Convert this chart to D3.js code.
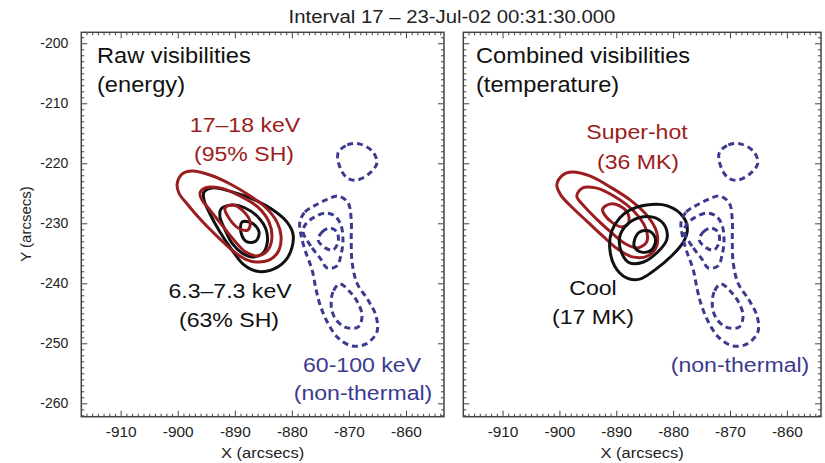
<!DOCTYPE html>
<html>
<head>
<meta charset="utf-8">
<script src="https://cdn.jsdelivr.net/npm/d3@7"></script>
<style>
  body { margin: 0; background: #fff; }
  svg { font-family: "Liberation Sans", Arial, Helvetica, sans-serif; }
</style>
</head>
<body>
<div id="chart"></div>
<script>
// tick labels
const xMajor = [-910, -900, -890, -880, -870, -860];
const yMajor = [-260, -250, -240, -230, -220, -210, -200];

// contour levels, [x, y] in arcsecs
// left panel: raw visibilities (energy)
const rawHotOuter = [[-900.1,-223.45],[-899.25,-221.8],[-897.5,-221.3],[-894.35,-221.95],[-890.8,-223.45],[-887.3,-225.45],[-884.5,-227.45],[-882.6,-229.8],[-881.9,-232.1],[-882.25,-234.45],[-883.65,-235.95],[-885.95,-236.45],[-888.2,-235.95],[-890.5,-234.45],[-892.95,-232.3],[-895.6,-229.8],[-898.2,-226.95],[-899.8,-224.95]];
const rawHotMid = [[-896.1,-224.95],[-895.2,-224.1],[-892.6,-224.1],[-889.1,-225.45],[-885.95,-227.3],[-884.0,-229.8],[-883.5,-232.45],[-884.2,-234.45],[-885.95,-235.45],[-888.05,-234.8],[-890.15,-232.8],[-892.25,-230.3],[-894.35,-227.8],[-895.75,-226.1]];
const rawHotInner = [[-891.7,-227.45],[-890.3,-226.95],[-888.55,-227.95],[-887.3,-229.8],[-887.7,-231.1],[-889.1,-230.95],[-890.8,-229.45]];
const rawCoolOuter = [[-895.4,-224.8],[-894.0,-224.1],[-890.3,-224.8],[-886.5,-226.1],[-883.3,-227.8],[-880.85,-229.8],[-879.8,-231.8],[-880.0,-234.1],[-881.2,-236.3],[-883.65,-237.8],[-886.3,-237.95],[-888.55,-236.8],[-890.5,-234.45],[-892.6,-231.45],[-894.35,-228.45],[-895.4,-226.1]];
const rawCoolMid = [[-892.4,-227.6],[-890.5,-226.95],[-888.2,-227.45],[-885.95,-228.95],[-884.5,-231.1],[-884.35,-233.45],[-885.2,-235.1],[-887.0,-235.6],[-888.74,-234.95],[-890.5,-233.3],[-891.7,-231.1],[-892.6,-228.95]];
const rawCoolInner = [[-888.75,-229.8],[-887.0,-229.95],[-885.75,-231.45],[-886.3,-232.95],[-887.85,-233.1],[-888.9,-231.6]];

// right panel: combined visibilities (temperature)
const combHotOuter = [[-900.45,-223.6],[-899.4,-221.95],[-897.85,-221.45],[-894.65,-222.1],[-890.8,-224.1],[-887.3,-226.3],[-884.5,-228.8],[-882.9,-231.45],[-882.9,-233.8],[-884.5,-235.45],[-887.15,-235.6],[-889.75,-234.3],[-892.4,-232.1],[-895.0,-229.8],[-897.65,-227.45],[-899.75,-225.3]];
const combHotMid = [[-896.95,-225.45],[-895.9,-224.1],[-893.6,-224.1],[-890.45,-225.45],[-886.95,-227.95],[-884.85,-230.8],[-884.65,-233.1],[-886.25,-234.1],[-888.35,-233.45],[-890.8,-231.6],[-893.45,-229.3],[-895.7,-227.1]];
const combHotInner = [[-892.4,-227.6],[-891.15,-226.8],[-889.4,-227.1],[-888.0,-228.3],[-887.85,-229.95],[-889.05,-230.6],[-890.8,-229.8],[-892.05,-228.6]];
const combCoolOuter = [[-889.4,-229.1],[-887.65,-227.8],[-884.65,-226.95],[-881.0,-227.1],[-878.2,-228.95],[-877.5,-231.1],[-878.2,-233.1],[-880.3,-235.45],[-883.25,-237.8],[-885.9,-239.3],[-888.2,-239.1],[-890.3,-237.1],[-891.15,-234.1],[-890.8,-231.3]];
const combCoolMid = [[-889.4,-232.3],[-888.35,-230.45],[-886.1,-229.1],[-883.1,-229.1],[-881.35,-230.6],[-881.15,-232.8],[-882.9,-234.95],[-885.2,-236.45],[-887.65,-236.6],[-889.05,-234.95]];
const combCoolInner = [[-886.8,-232.8],[-885.9,-231.45],[-884.15,-231.3],[-883.1,-232.6],[-883.8,-234.45],[-885.55,-234.8],[-886.8,-233.95]];

// non-thermal 60-100 keV (same in both panels)
const ntTop = [[-871.9,-218.3],[-870.3,-216.95],[-868.05,-216.8],[-865.8,-218.1],[-865.1,-219.95],[-866.3,-221.6],[-868.6,-222.8],[-870.3,-222.45],[-871.6,-220.6]];
const ntOuter = [[-878.6,-229.8],[-877.7,-228.1],[-876.1,-227.1],[-874.0,-226.1],[-871.9,-225.45],[-870.15,-226.6],[-869.6,-229.45],[-869.6,-232.8],[-869.45,-236.45],[-868.6,-239.95],[-866.65,-242.8],[-865.25,-245.45],[-865.1,-248.1],[-867.0,-250.1],[-869.45,-250.45],[-871.9,-249.1],[-873.8,-246.45],[-875.05,-243.6],[-875.75,-241.1],[-876.45,-237.8],[-877.7,-234.45],[-878.4,-231.95]];
const ntMid = [[-878.05,-231.45],[-876.45,-234.1],[-875.05,-235.8],[-873.8,-237.45],[-872.1,-237.1],[-871.4,-235.3],[-871.05,-232.8],[-871.4,-230.3],[-872.45,-228.8],[-874.15,-228.3],[-876.3,-229.1],[-877.7,-230.3]];
const ntInner = [[-875.4,-232.8],[-874.7,-231.45],[-873.3,-230.8],[-872.1,-231.45],[-871.9,-233.1],[-872.8,-234.45],[-874.15,-234.1]];
const ntLower = [[-871.6,-240.1],[-872.8,-241.45],[-873.1,-243.8],[-872.45,-245.8],[-870.7,-247.3],[-868.4,-247.3],[-867.7,-245.45],[-868.4,-243.3],[-869.8,-241.45]];

const RED = '#9b1d20', BLACK = '#111', BLUE = '#3b3a8e';
const SX = 1.1; // text in the figure is a bit wide

const svg = d3.select('#chart').append('svg')
    .attr('width', 825)
    .attr('height', 463);

const plotTop = 32.3, plotH = 384.4;
const y = d3.scaleLinear().domain([-262.23, -198.17]).range([plotH, 0]);

function label(str, px, py, size, color, anchor) {
    svg.append('text')
        .attr('transform', `translate(${px},${py}) scale(${SX},1)`)
        .attr('text-anchor', anchor || 'middle')
        .attr('font-size', size)
        .attr('fill', color)
        .text(str);
}

function axisG(g, axis, tr) {
    const a = g.append('g').attr('transform', tr || null).call(axis);
    a.attr('font-size', null).attr('font-family', null);
    a.select('.domain').remove();
    a.selectAll('line').attr('stroke', '#444').attr('stroke-width', 1);
    a.selectAll('text').attr('fill', '#222').attr('font-size', 14);
    return a;
}

function panel(id, left, width, xDomain, yLabels, layers) {
    const x = d3.scaleLinear().domain(xDomain).range([0, width]);
    const g = svg.append('g').attr('transform', `translate(${left},${plotTop})`);

    g.append('clipPath').attr('id', id)
        .append('rect').attr('width', width).attr('height', plotH);

    const xMinor = d3.range(Math.ceil(xDomain[0]), xDomain[1], 1).filter(v => v % 10 !== 0);
    const yMinor = d3.range(-262, -198, 1).filter(v => v % 10 !== 0);
    const fmt = d => String(d);

    // major and minor ticks, pointing inward on all sides
    const xb = axisG(g, d3.axisBottom(x).tickValues(xMajor).tickSize(-6).tickPadding(10).tickFormat(fmt), `translate(0,${plotH})`);
    xb.selectAll('text').attr('transform', `scale(${SX},1)`);
    axisG(g, d3.axisBottom(x).tickValues(xMinor).tickSize(-3).tickFormat(''), `translate(0,${plotH})`);
    axisG(g, d3.axisTop(x).tickValues(xMajor).tickSize(-6).tickFormat(''));
    axisG(g, d3.axisTop(x).tickValues(xMinor).tickSize(-3).tickFormat(''));
    axisG(g, d3.axisLeft(y).tickValues(yMajor).tickSize(-6).tickPadding(13).tickFormat(yLabels ? fmt : ''));
    axisG(g, d3.axisLeft(y).tickValues(yMinor).tickSize(-3).tickFormat(''));
    axisG(g, d3.axisRight(y).tickValues(yMajor).tickSize(-6).tickFormat(''), `translate(${width},0)`);
    axisG(g, d3.axisRight(y).tickValues(yMinor).tickSize(-3).tickFormat(''), `translate(${width},0)`);

    g.append('rect')
        .attr('width', width).attr('height', plotH)
        .attr('fill', 'none').attr('stroke', '#444').attr('stroke-width', 1.5);

    const line = d3.line()
        .x(d => x(d[0]))
        .y(d => y(d[1]))
        .curve(d3.curveCatmullRomClosed.alpha(0.5));

    const c = g.append('g').attr('clip-path', `url(#${id})`);
    layers.forEach(l => {
        c.append('path')
            .attr('d', line(l.pts))
            .attr('fill', 'none')
            .attr('stroke', l.color)
            .attr('stroke-width', 3)
            .attr('stroke-dasharray', l.dash ? '6,4' : null);
    });

    label('X (arcsecs)', left + width / 2, 458, 15, '#222');
}

const nonThermal = [ntTop, ntOuter, ntMid, ntInner, ntLower].map(p => ({ pts: p, color: BLUE, dash: true }));

panel('clipL', 81.3, 362.7, [-916.9, -853.34], true, [
    ...[rawCoolOuter, rawCoolMid, rawCoolInner].map(p => ({ pts: p, color: BLACK })),
    ...[rawHotOuter, rawHotMid, rawHotInner].map(p => ({ pts: p, color: RED })),
    ...nonThermal
]);

panel('clipR', 463.3, 357.7, [-916.9, -854.0], false, [
    ...[combHotOuter, combHotMid, combHotInner].map(p => ({ pts: p, color: RED })),
    ...[combCoolOuter, combCoolMid, combCoolInner].map(p => ({ pts: p, color: BLACK })),
    ...nonThermal
]);

// title and axis label
label('Interval 17 \u2013 23-Jul-02 00:31:30.000', 452, 23, 18.5, '#222');
svg.append('text')
    .attr('transform', 'translate(31,224) rotate(-90)')
    .attr('text-anchor', 'middle')
    .attr('font-size', 15)
    .attr('fill', '#222')
    .text('Y (arcsecs)');

// annotations
label('Raw visibilities', 97, 63, 21.5, BLACK, 'start');
label('(energy)', 97, 92, 21.5, BLACK, 'start');
label('17\u201318 keV', 245, 132, 21, RED);
label('(95% SH)', 244, 161, 21, RED);
label('6.3\u20137.3 keV', 230, 298, 21, BLACK);
label('(63% SH)', 229, 327, 21, BLACK);
label('60-100 keV', 362, 371.5, 21, BLUE);
label('(non-thermal)', 363, 400, 21, BLUE);

label('Combined visibilities', 476, 63, 21.5, BLACK, 'start');
label('(temperature)', 476, 92, 21.5, BLACK, 'start');
label('Super-hot', 637, 139, 21, RED);
label('(36 MK)', 638, 169, 21, RED);
label('Cool', 593, 295, 21, BLACK);
label('(17 MK)', 593, 324, 21, BLACK);
label('(non-thermal)', 740, 372, 21, BLUE);
</script>
</body>
</html>
